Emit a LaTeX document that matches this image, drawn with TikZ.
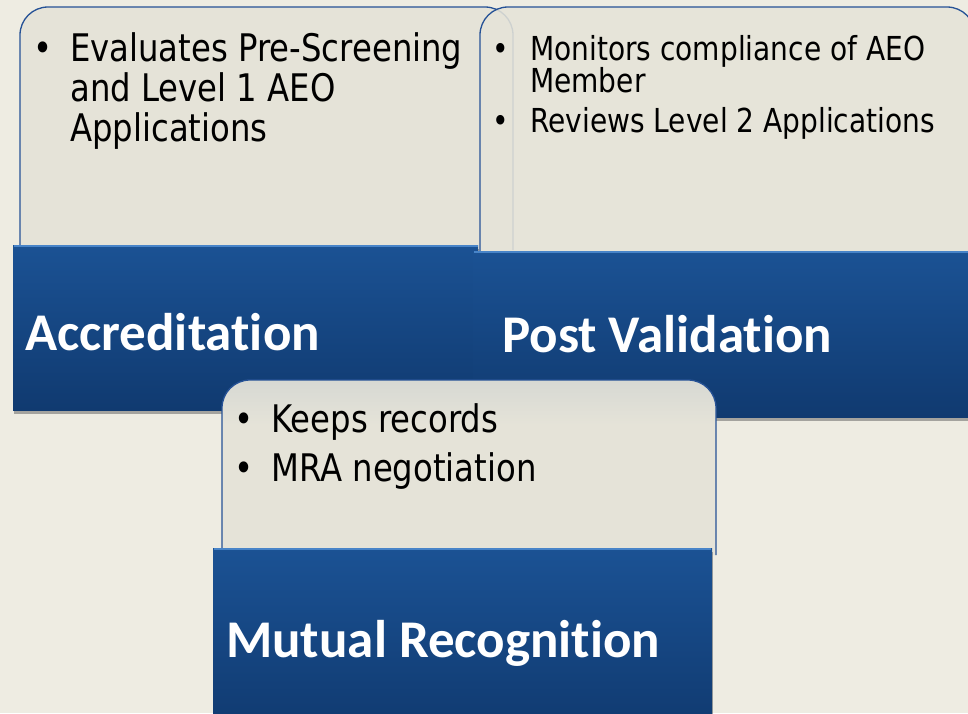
\documentclass[tikz,border=0pt]{standalone}
\usepackage{fontspec}
\newfontfamily\bodyf[FakeStretch=0.85]{DejaVu Sans}
\newfontfamily\titlef[Ligatures=NoCommon]{Carlito}
\usetikzlibrary{shadows}
\definecolor{bg}{RGB}{238,236,226}
\definecolor{cardfill}{RGB}{229,227,216}
\definecolor{cardtop}{RGB}{214,216,211}
\definecolor{cardline}{RGB}{38,82,150}
\definecolor{bluetop}{RGB}{27,82,148}
\definecolor{bluebot}{RGB}{16,58,112}
\definecolor{bevel}{RGB}{72,132,200}
\begin{document}
\begin{tikzpicture}[x=1pt,y=-1pt,
  card/.style={draw=cardline, line width=1.3pt, fill=cardfill, rounded corners=28pt},
  bluebox/.style={top color=bluetop, bottom color=bluebot, draw=none,
    drop shadow={shadow xshift=1pt, shadow yshift=-4pt, opacity=0.45, fill=black!70}},
  bevelline/.style={draw=bevel, line width=2.5pt},
  btext/.style={anchor=base west, inner sep=0pt, text=black},
  big/.style={font=\bodyf\fontsize{38}{41}\selectfont},
  small/.style={font=\bodyf\fontsize{33}{36}\selectfont},
  ttext/.style={anchor=base west, inner sep=0pt, text=white,
    font=\titlef\bfseries\fontsize{53}{60}\selectfont}]
\useasboundingbox (0,0) rectangle (968,713);
\clip (0,0) rectangle (968,713);
\fill[bg] (0,0) rectangle (968,713);

% Accreditation
\path[card] (20,250) -- (20,7) -- (513,7) -- (513,250);
\fill[bluebox] (13,245) rectangle (478,410);
\draw[bevelline] (14,246) -- (478,246);
% Post Validation
\path[card, fill opacity=0.88] (480,252) -- (480,7) -- (975,7) -- (975,252);
\fill[bluebox] (473,251) rectangle (990,417);
\draw[bevelline] (474,252) -- (990,252);
% Mutual Recognition
\fill[cardfill, rounded corners=28pt] (222,555) -- (222,380) -- (716,380) -- (716,555);
\begin{scope}
  \clip[rounded corners=28pt] (222,555) -- (222,380) -- (716,380) -- (716,555) -- cycle;
  \fill[top color=cardtop, bottom color=cardfill] (222,378) rectangle (716,425);
\end{scope}
\draw[cardline, line width=1.3pt, rounded corners=28pt] (222,555) -- (222,380) -- (716,380) -- (716,555);
\fill[bluebox] (213,548) rectangle (712,730);
\draw[bevelline] (214,549) -- (711,549);

% texts card 1
\node[btext, big] (b1) at (33,61) {•};
\node[btext, big] (a1) at (70,61) {Evaluates Pre-Screening};
\node[btext, big] (a2) at (70,101) {and Level 1 AEO};
\node[btext, big] (a3) at (70,141) {Applications};
\node[ttext] (t1) at (25,350) {Accreditation};

% texts card 2
\node[btext, small] (b2) at (492,60) {•};
\node[btext, small] (p1) at (530,60) {Monitors compliance of AEO};
\node[btext, small] (p2) at (530,92) {Member};
\node[btext, small] (b3) at (492,132) {•};
\node[btext, small] (p3) at (530,132) {Reviews Level 2 Applications};
\node[ttext] (t2) at (502,352) {Post Validation};

% texts card 3
\node[btext, big] (b4) at (234,432) {•};
\node[btext, big] (m1) at (271,432) {Keeps records};
\node[btext, big] (b5) at (234,481) {•};
\node[btext, big] (m2) at (271,481) {MRA negotiation};
\node[ttext] (t3) at (226,657) {Mutual Recognition};
\end{tikzpicture}
\end{document}
